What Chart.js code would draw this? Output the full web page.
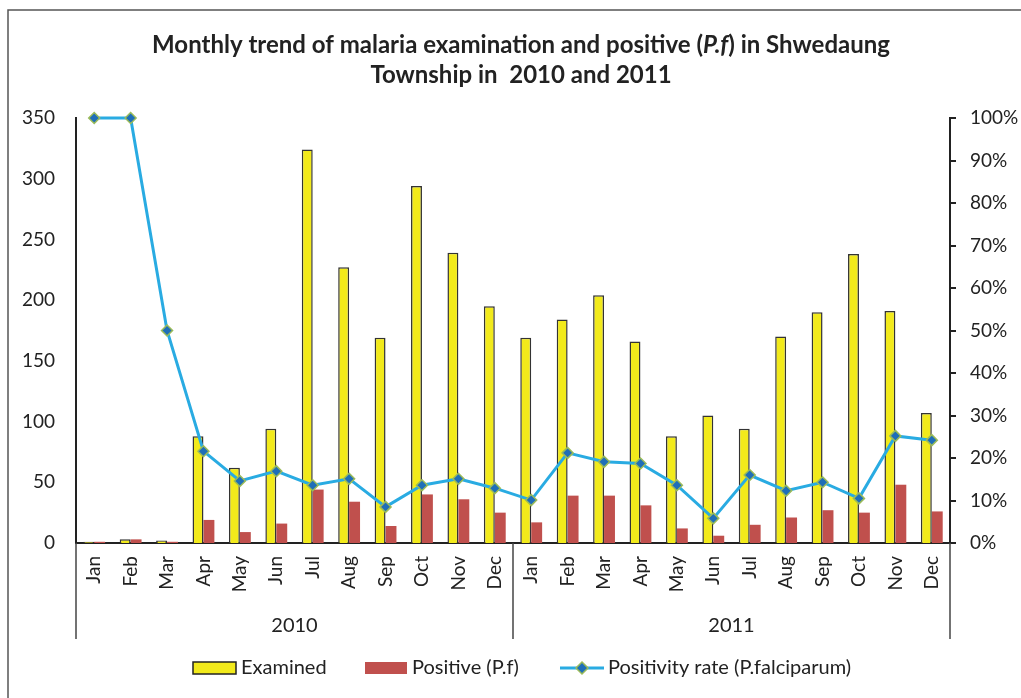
<!DOCTYPE html>
<html>
<head>
<meta charset="utf-8">
<script src="https://cdn.jsdelivr.net/npm/chart.js@4"></script>
<style>
html,body{margin:0;padding:0;background:#fff;}
canvas{display:block;}
</style>
</head>
<body>
<canvas id="c" width="1021" height="698"></canvas>
<script>
const months = ['Jan','Feb','Mar','Apr','May','Jun','Jul','Aug','Sep','Oct','Nov','Dec'];
const years = ['2010','2011'];
const examined2010 = [1,3,2,88,62,94,324,227,169,294,239,195];
const examined2011 = [169,184,204,166,88,105,94,170,190,238,191,107];
const positive2010 = [1,3,1,19,9,16,44,34,14,40,36,25];
const positive2011 = [17,39,39,31,12,6,15,21,27,25,48,26];
const rate2010 = [100,100,50,21.6,14.6,16.9,13.6,15.1,8.5,13.6,15.1,12.9];
const rate2011 = [10.1,21.2,19.1,18.7,13.6,5.8,16.0,12.3,14.3,10.5,25.2,24.2];
const leftTickStep = 50, leftMax = 350;
const rightTickStep = 10, rightMax = 100;
const titleLines = ['Monthly trend of malaria examination and positive (P.f) in Shwedaung', 'Township in  2010 and 2011'];
const seriesNames = ['Examined', 'Positive (P.f)', 'Positivity rate (P.falciparum)'];

const labels = months.concat(months);
const FONT = 'Lato, "Open Sans", sans-serif';
const YELLOW = '#F2EA1B', RED = '#C0504D', BLUE = '#29ABE2', PT = '#1F6EB8', PTB = '#9BBB59';

const deco = {
  id: 'deco',
  afterDraw(chart) {
    const ctx = chart.ctx, ca = chart.chartArea, xs = chart.scales.x;
    ctx.save();
    // outer border
    ctx.strokeStyle = '#555'; ctx.lineWidth = 1.5;
    ctx.beginPath(); ctx.moveTo(8, 698); ctx.lineTo(8, 10); ctx.lineTo(1021, 10); ctx.stroke();
    // title
    ctx.fillStyle = '#222'; ctx.textBaseline = 'middle';
    const TF = 'bold 24px ' + FONT, TFI = 'italic bold 24px ' + FONT;
    const l1 = titleLines[0];
    const idx = l1.indexOf('P.f');
    const a = l1.slice(0, idx), b = 'P.f', c = l1.slice(idx + 3);
    ctx.font = TF; const wa = ctx.measureText(a).width, wc = ctx.measureText(c).width;
    ctx.font = TFI; const wb = ctx.measureText(b).width;
    const x0 = 521 - (wa + wb + wc) / 2;
    ctx.textAlign = 'left';
    ctx.font = TF; ctx.fillText(a, x0, 45);
    ctx.font = TFI; ctx.fillText(b, x0 + wa, 45);
    ctx.font = TF; ctx.fillText(c, x0 + wa + wb, 45);
    ctx.textAlign = 'center';
    ctx.fillText(titleLines[1], 521, 75);
    // separators
    const mid = (xs.getPixelForValue(11) + xs.getPixelForValue(12)) / 2;
    ctx.strokeStyle = '#444'; ctx.lineWidth = 1.5;
    [ca.left, mid, ca.right].forEach(x => {
      ctx.beginPath(); ctx.moveTo(x, ca.bottom); ctx.lineTo(x, 639); ctx.stroke();
    });
    // year labels
    ctx.font = '20px ' + FONT; ctx.fillStyle = '#222';
    ctx.fillText(years[0], (ca.left + mid) / 2, 626);
    ctx.fillText(years[1], (mid + ca.right) / 2, 626);
    // legend
    const ly = 668;
    ctx.textAlign = 'left';
    ctx.fillStyle = YELLOW; ctx.fillRect(193, ly - 6, 43, 12);
    ctx.strokeStyle = '#222'; ctx.lineWidth = 1.5; ctx.strokeRect(193, ly - 6, 43, 12);
    ctx.fillStyle = '#222'; ctx.fillText(seriesNames[0], 241, ly);
    ctx.fillStyle = RED; ctx.fillRect(365, ly - 6, 42, 12);
    ctx.fillStyle = '#222'; ctx.fillText(seriesNames[1], 412, ly);
    ctx.strokeStyle = BLUE; ctx.lineWidth = 3;
    ctx.beginPath(); ctx.moveTo(560, ly); ctx.lineTo(604, ly); ctx.stroke();
    ctx.fillStyle = PT; ctx.strokeStyle = PTB; ctx.lineWidth = 1.5;
    ctx.beginPath(); ctx.moveTo(582, ly - 6); ctx.lineTo(588, ly); ctx.lineTo(582, ly + 6); ctx.lineTo(576, ly); ctx.closePath(); ctx.fill(); ctx.stroke();
    ctx.fillStyle = '#222'; ctx.fillText(seriesNames[2], 608, ly);
    ctx.restore();
  }
};

new Chart(document.getElementById('c'), {
  data: {
    labels: labels,
    datasets: [
      {
        type: 'line', label: seriesNames[2], yAxisID: 'y1', order: 0,
        data: rate2010.concat(rate2011),
        borderColor: BLUE, borderWidth: 3, tension: 0,
        pointStyle: 'rectRot', pointRadius: 5.5, pointBackgroundColor: PT,
        pointBorderColor: PTB, pointBorderWidth: 1.5, clip: false
      },
      {
        type: 'bar', label: seriesNames[0], yAxisID: 'y', order: 1,
        data: examined2010.concat(examined2011),
        backgroundColor: YELLOW, borderColor: '#333', borderWidth: 1.5,
        categoryPercentage: 0.6, barPercentage: 1.0
      },
      {
        type: 'bar', label: seriesNames[1], yAxisID: 'y', order: 1,
        data: positive2010.concat(positive2011),
        backgroundColor: RED, borderWidth: 0,
        categoryPercentage: 0.6, barPercentage: 1.0
      }
    ]
  },
  options: {
    responsive: false, animation: false,
    layout: { padding: { top: 118, left: 0, right: 0, bottom: 0 } },
    plugins: { legend: { display: false }, title: { display: false }, tooltip: { enabled: false } },
    scales: {
      x: {
        grid: { display: false, drawTicks: false },
        border: { display: true, color: '#222', width: 2 },
        ticks: { maxRotation: 90, minRotation: 90, autoSkip: false, padding: 13, color: '#222', font: { family: FONT, size: 19 } },
        afterFit(s) { s.height = 155; }
      },
      y: {
        position: 'left', min: 0, max: leftMax,
        grid: { display: false, drawTicks: false },
        border: { display: true, color: '#222', width: 2 },
        ticks: { stepSize: leftTickStep, padding: 21, color: '#222', font: { family: FONT, size: 19 } },
        afterFit(s) { s.width = 76; }
      },
      y1: {
        position: 'right', min: 0, max: rightMax,
        grid: { drawOnChartArea: false, drawTicks: true, tickLength: 6, color: '#222', tickColor: '#222', lineWidth: 2 },
        border: { display: true, color: '#222', width: 2 },
        ticks: { stepSize: rightTickStep, padding: 14, color: '#222', font: { family: FONT, size: 19 }, callback: v => v + '%' },
        afterFit(s) { s.width = 71; }
      }
    }
  },
  plugins: [deco]
});
</script>
</body>
</html>
